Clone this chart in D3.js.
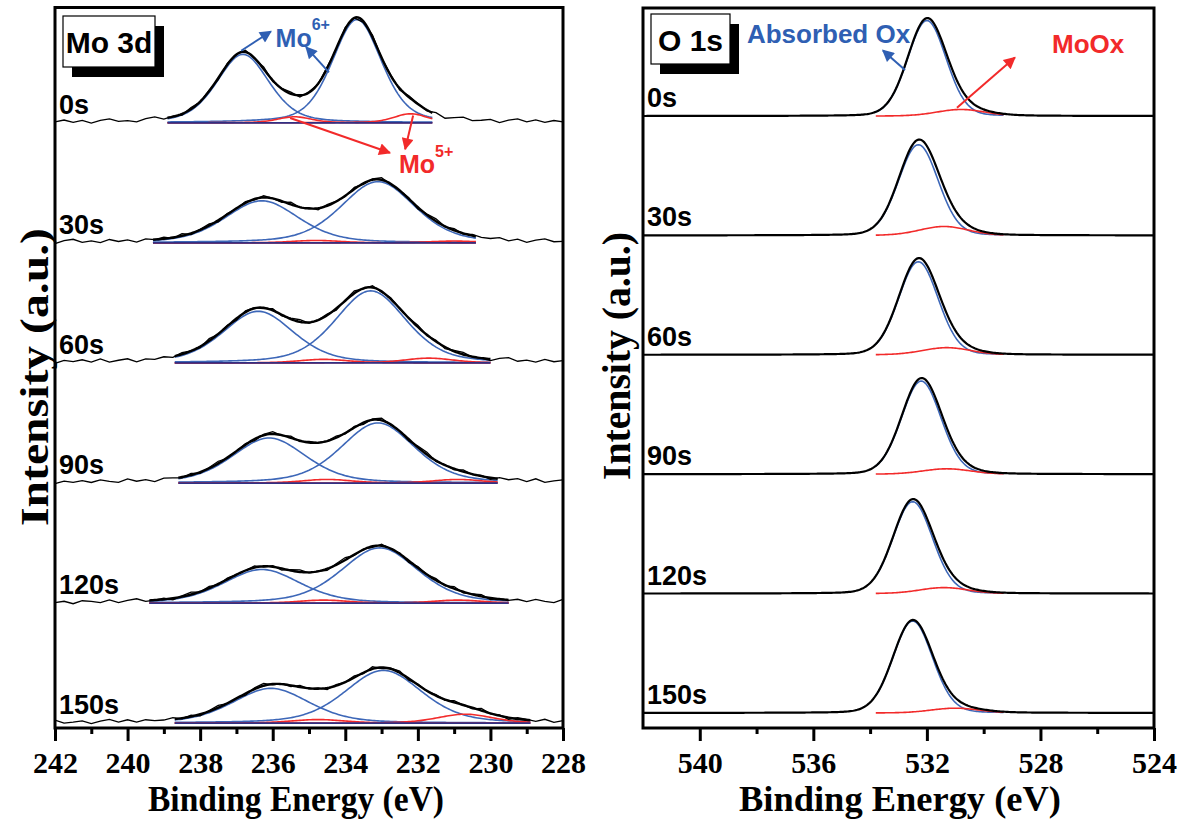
<!DOCTYPE html>
<html>
<head>
<meta charset="utf-8">
<script src="https://cdn.jsdelivr.net/npm/d3@7"></script>
<style>
  body { margin: 0; background: #fff; }
  svg text { font-family: "Liberation Sans", Arial, sans-serif; font-weight: bold; }
  svg text.serif { font-family: "Liberation Serif", "Times New Roman", serif; }
</style>
</head>
<body>
<script>
// ---- data ----
var times = ["0s", "30s", "60s", "90s", "120s", "150s"];

// Mo 3d fits, one row per time: [centre (eV), height (a.u.), fwhm (eV)]
var mo6Peak52 = [[233.68, 0.86, 1.6], [233.10, 0.51, 2.4], [233.30, 0.60, 2.3], [233.10, 0.50, 2.4], [233.05, 0.46, 2.5], [232.95, 0.44, 2.5]];
var mo6Peak32 = [[236.82, 0.57, 1.7], [236.30, 0.35, 2.4], [236.40, 0.43, 2.3], [236.10, 0.375, 2.4], [236.30, 0.28, 2.5], [236.05, 0.29, 2.5]];
var mo5PeakA = [[235.40, 0.05, 1.1], [234.80, 0.02, 1.6], [234.60, 0.03, 1.6], [234.50, 0.03, 1.6], [234.60, 0.025, 1.6], [234.75, 0.03, 1.8]];
var mo5PeakB = [[232.20, 0.075, 1.1], [231.00, 0.015, 1.6], [231.70, 0.04, 1.6], [230.90, 0.03, 1.6], [230.90, 0.025, 1.6], [230.70, 0.075, 1.8]];
var moFitWindow = [[238.9, 231.6], [239.3, 230.4], [238.7, 230.0], [238.6, 229.8], [239.4, 229.5], [238.7, 228.9]];
// residual of the raw Mo 3d trace (a.u.), every 0.25 eV from 242 eV
var moNoise = [0.00, 0.014, -0.007, 0.01, -0.014, 0.007, 0.018, -0.004, 0.0, -0.014, 0.01, 0.02, -0.007, 0.004,
  -0.01, 0.014, -0.004, 0.007, -0.014, 0.01, 0.0, 0.014, -0.007, 0.018, -0.01, 0.004, 0.014, -0.014, 0.007,
  -0.004, 0.01, -0.007, 0.014, 0.0, -0.01, 0.018, -0.004, 0.007, -0.014, 0.01, 0.004, -0.007, 0.014, -0.01,
  0.007, 0.018, -0.007, 0.0, 0.01, -0.014, 0.007, 0.02, -0.004, 0.014, -0.007, 0.01, 0.0];

// O 1s fits
var oAdsorbed = [[532.0, 0.80, 1.6], [532.3, 0.76, 1.65], [532.3, 0.78, 1.65], [532.2, 0.78, 1.65], [532.5, 0.77, 1.65], [532.5, 0.77, 1.65]];
var oMoOx = [[530.8, 0.055, 2.0], [531.4, 0.075, 2.0], [531.3, 0.06, 2.0], [531.3, 0.045, 2.0], [531.4, 0.05, 2.0], [531.0, 0.04, 2.0]];
var oFitWindow = [533.8, 529.3];

// axis ticks
var moTicks = [242, 240, 238, 236, 234, 232, 230, 228];
var moMinorTicks = [241, 239, 237, 235, 233, 231, 229];
var oTicks = [540, 536, 532, 528, 524];
var oMinorTicks = [538, 534, 530, 526];

// ---- chart ----
var width = 1179, height = 821;
var blue = "#3d67b8", red = "#f22a2a", navy = "#303084", textBlue = "#2f5fb3";
var serif = '"Liberation Serif", "Times New Roman", serif';

var svg = d3.select("body").append("svg")
  .attr("width", width)
  .attr("height", height);

var defs = svg.append("defs");
[["arrBlue", textBlue], ["arrRed", red]].forEach(function(m) {
  defs.append("marker")
    .attr("id", m[0])
    .attr("viewBox", "0 0 10 10")
    .attr("refX", 9).attr("refY", 5)
    .attr("markerUnits", "userSpaceOnUse")
    .attr("markerWidth", 15).attr("markerHeight", 12)
    .attr("orient", "auto")
    .append("path")
    .attr("d", "M0,0L10,5L0,10z")
    .attr("fill", m[1]);
});

// pseudo-Voigt line shape
function pv(e, p, eta) {
  var t = 4 * (e - p[0]) * (e - p[0]) / (p[2] * p[2]);
  return p[1] * ((1 - eta) * Math.exp(-Math.LN2 * t) + eta / (1 + t));
}

function panel(opt) {
  var x = d3.scaleLinear().domain(opt.xDomain).range(opt.xRange);
  var y = d3.scaleLinear().domain(opt.yDomain).range(opt.yRange);
  var g = svg.append("g");
  var line = function(fn, off) {
    return d3.line().x(function(e) { return x(e); }).y(function(e) { return y(off + fn(e)); });
  };
  opt.draw(g, x, y, line);

  // bottom axis, major and minor ticks
  var major = g.append("g")
    .attr("transform", "translate(0," + opt.yRange[0] + ")")
    .call(d3.axisBottom(x).tickValues(opt.ticks).tickSize(13).tickSizeOuter(0).tickPadding(11).tickFormat(d3.format("d")));
  var minor = g.append("g")
    .attr("transform", "translate(0," + opt.yRange[0] + ")")
    .call(d3.axisBottom(x).tickValues(opt.minor).tickSize(6).tickSizeOuter(0).tickFormat(""));
  [major, minor].forEach(function(a) {
    a.select(".domain").remove();
    a.selectAll(".tick line").attr("stroke", "#000").attr("stroke-width", 3);
  });
  major.selectAll(".tick text")
    .attr("fill", "#000")
    .style("font-family", serif)
    .style("font-size", "30px");

  // frame
  g.append("rect")
    .attr("x", opt.xRange[0]).attr("y", opt.yRange[1])
    .attr("width", opt.xRange[1] - opt.xRange[0])
    .attr("height", opt.yRange[0] - opt.yRange[1])
    .attr("fill", "none").attr("stroke", "#000").attr("stroke-width", 3);

  // axis titles
  g.append("text").attr("class", "serif")
    .attr("x", opt.xTitleX).attr("y", 811)
    .attr("text-anchor", "middle").style("font-size", "35px")
    .attr("textLength", opt.xTitleLen).attr("lengthAdjust", "spacingAndGlyphs")
    .text("Binding Energy (eV)");
  g.append("text").attr("class", "serif")
    .attr("transform", "translate(" + opt.yLabelX + "," + opt.yLabelY + ") rotate(-90)")
    .attr("text-anchor", "middle").style("font-size", "41px")
    .attr("textLength", opt.yLabelLen).attr("lengthAdjust", "spacingAndGlyphs")
    .text("Intensity (a.u.)");

  // panel name box with shadow
  var b = opt.box;
  g.append("rect").attr("x", b.x + 9).attr("y", b.y + 10).attr("width", b.w).attr("height", b.h).attr("fill", "#000");
  g.append("rect").attr("x", b.x).attr("y", b.y).attr("width", b.w).attr("height", b.h)
    .attr("fill", "#fff").attr("stroke", "#000").attr("stroke-width", 1.2);
  g.append("text").attr("x", b.x + b.w / 2).attr("y", b.y + 37)
    .attr("text-anchor", "middle").style("font-size", "30px").text(b.label);

  // time labels
  times.forEach(function(t, i) {
    g.append("text")
      .attr("x", opt.xRange[0] + 4)
      .attr("y", y(times.length - 1 - i) - 9)
      .style("font-size", "27px")
      .text(t);
  });

  return {x: x, y: y, g: g};
}

function arrow(g, x, y, a, b, color, id) {
  g.append("line")
    .attr("x1", x(a[0])).attr("y1", y(a[1]))
    .attr("x2", x(b[0])).attr("y2", y(b[1]))
    .attr("stroke", color).attr("stroke-width", 2)
    .attr("marker-end", "url(#" + id + ")");
}

// ---- Mo 3d ----
var left = panel({
  xDomain: [242, 228], xRange: [55, 563],
  yDomain: [-0.04, 5.96], yRange: [728, 7.5],
  ticks: moTicks, minor: moMinorTicks,
  xTitleX: 296, xTitleLen: 296,
  yLabelX: 48, yLabelY: 377, yLabelLen: 298,
  box: {x: 63, y: 16, w: 92, h: 51, label: "Mo 3d"},
  draw: function(g, x, y, line) {
    var grid = d3.range(0, moNoise.length).map(function(k) { return 242 - k * 0.25; });
    times.forEach(function(t, i) {
      var off = times.length - 1 - i;
      var comps = [mo6Peak52[i], mo6Peak32[i], mo5PeakA[i], mo5PeakB[i]];
      var env = function(e) { return d3.sum(comps, function(p) { return pv(e, p, 0.35); }); };
      var win = moFitWindow[i];
      var fitE = d3.range(win[0], win[1] - 0.001, -0.05);

      comps.forEach(function(p, j) {
        g.append("path")
          .datum(fitE)
          .attr("d", line(function(e) { return pv(e, p, 0.35); }, off))
          .attr("fill", "none")
          .attr("stroke", j < 2 ? blue : red)
          .attr("stroke-width", 1.6);
      });

      // linear background under the fit
      g.append("line")
        .attr("x1", x(win[0])).attr("x2", x(win[1]))
        .attr("y1", y(off)).attr("y2", y(off))
        .attr("stroke", navy).attr("stroke-width", 1.8);

      g.append("path")
        .datum(grid)
        .attr("d", line(function(e) {
          var k = (Math.round((242 - e) / 0.25) + i * 9) % moNoise.length;
          return env(e) + moNoise[k];
        }, off))
        .attr("fill", "none").attr("stroke", "#000").attr("stroke-width", 1.3);

      g.append("path")
        .datum(fitE)
        .attr("d", line(env, off))
        .attr("fill", "none").attr("stroke", "#000").attr("stroke-width", 2.4);
    });
  }
});

// annotations in data coordinates
var lg = left.g, lx = left.x, ly = left.y;
arrow(lg, lx, ly, [236.87, 5.60], [236.05, 5.76], textBlue, "arrBlue");
arrow(lg, lx, ly, [234.45, 5.42], [235.08, 5.63], textBlue, "arrBlue");
lg.append("text").attr("x", lx(235.92)).attr("y", ly(5.63))
  .attr("fill", textBlue).style("font-size", "25px")
  .text("Mo").append("tspan").attr("dy", -17).style("font-size", "16px").text("6+");
arrow(lg, lx, ly, [235.52, 5.04], [232.77, 4.75], red, "arrRed");
arrow(lg, lx, ly, [232.13, 5.06], [232.35, 4.78], red, "arrRed");
lg.append("text").attr("x", lx(232.52)).attr("y", ly(4.58))
  .attr("fill", red).style("font-size", "25px")
  .text("Mo").append("tspan").attr("dy", -16).style("font-size", "16px").text("5+");

// ---- O 1s ----
var right = panel({
  xDomain: [542, 524], xRange: [643, 1154],
  yDomain: [-0.126, 5.905], yRange: [728, 8],
  ticks: oTicks, minor: oMinorTicks,
  xTitleX: 900, xTitleLen: 322,
  yLabelX: 630, yLabelY: 356, yLabelLen: 248,
  box: {x: 651, y: 14, w: 79, h: 50, label: "O 1s"},
  draw: function(g, x, y, line) {
    var full = d3.range(542, 523.999, -0.05);
    var fitE = d3.range(oFitWindow[0], oFitWindow[1] - 0.001, -0.05);
    times.forEach(function(t, i) {
      var off = times.length - 1 - i;
      g.append("path").datum(fitE)
        .attr("d", line(function(e) { return pv(e, oAdsorbed[i], 0.1); }, off))
        .attr("fill", "none").attr("stroke", blue).attr("stroke-width", 1.6);
      g.append("path").datum(fitE)
        .attr("d", line(function(e) { return pv(e, oMoOx[i], 0.1); }, off))
        .attr("fill", "none").attr("stroke", red).attr("stroke-width", 1.6);
      g.append("path").datum(full)
        .attr("d", line(function(e) { return pv(e, oAdsorbed[i], 0.1) + pv(e, oMoOx[i], 0.1); }, off))
        .attr("fill", "none").attr("stroke", "#000").attr("stroke-width", 2.2);
    });
  }
});

var rg = right.g, rx = right.x, ry = right.y;
rg.append("text").attr("x", rx(538.34)).attr("y", ry(5.61))
  .attr("fill", textBlue).style("font-size", "26px").text("Absorbed Ox");
arrow(rg, rx, ry, [532.77, 5.385], [533.55, 5.55], textBlue, "arrBlue");
rg.append("text").attr("x", rx(527.59)).attr("y", ry(5.53))
  .attr("fill", red).style("font-size", "26px").text("MoOx");
arrow(rg, rx, ry, [530.94, 5.07], [528.9, 5.49], red, "arrRed");
</script>
</body>
</html>
